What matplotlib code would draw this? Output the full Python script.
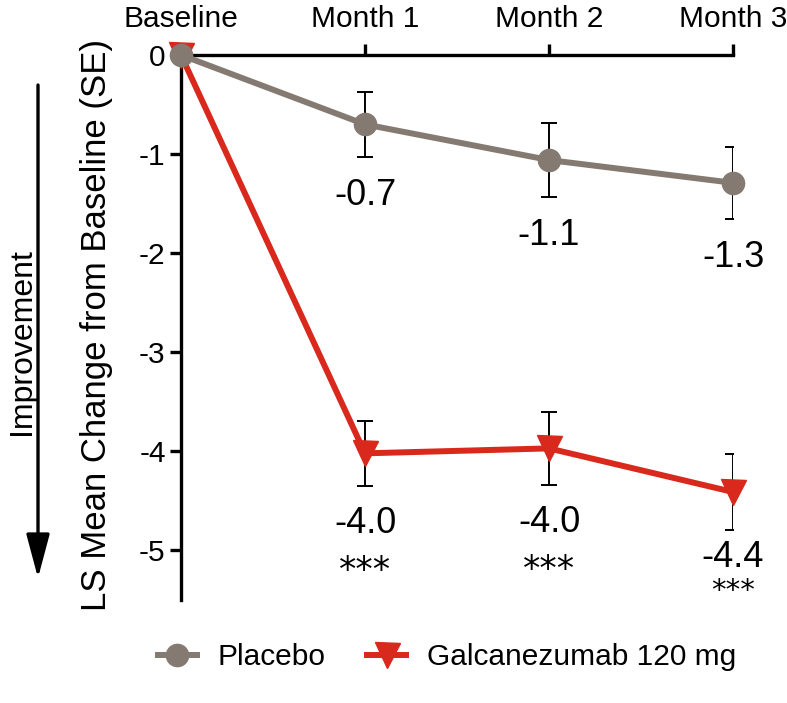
import matplotlib.pyplot as plt
from matplotlib.patches import FancyArrowPatch

plt.rcParams['font.family'] = ['Liberation Sans', 'DejaVu Sans']
plt.rcParams['axes.unicode_minus'] = False

# data
timepoints = ['Baseline', 'Month 1', 'Month 2', 'Month 3']
placebo = [0.0, -0.70, -1.06, -1.29]
placebo_se = [0.0, 0.33, 0.37, 0.36]
galca = [0.0, -4.02, -3.97, -4.41]
galca_se = [0.0, 0.33, 0.37, 0.38]
galca_stars = ['', '***', '***', '***']

grey = '#847a72'
red = '#d9291c'

fig = plt.figure(figsize=(7.87, 7.03), dpi=100)
ax = fig.add_axes([181 / 787, 1 - 600 / 703, (733 - 181) / 787, (600 - 55) / 703])

x = list(range(len(timepoints)))

# error bars (not at baseline)
ax.errorbar(x[1:], galca[1:], yerr=galca_se[1:], fmt='none', ecolor='black',
            elinewidth=1.4, capsize=5.5, capthick=1.4, zorder=2)
ax.errorbar(x[1:], placebo[1:], yerr=placebo_se[1:], fmt='none', ecolor='black',
            elinewidth=1.4, capsize=5.5, capthick=1.4, zorder=2)

l2, = ax.plot(x, galca, color=red, lw=4.3, marker='v', markersize=18,
              zorder=3, clip_on=False, label='Galcanezumab 120 mg')
l1, = ax.plot(x, placebo, color=grey, lw=4.3, marker='o', markersize=16,
              zorder=4, clip_on=False, label='Placebo')

# value labels
for i in x[1:]:
    last = i == x[-1]
    ax.annotate(f'{placebo[i]:.1f}', (i, placebo[i] - placebo_se[i]),
                xytext=(0, -28), textcoords='offset points',
                ha='center', va='center', fontsize=26)
    ax.annotate(f'{galca[i]:.1f}', (i, galca[i] - galca_se[i]),
                xytext=(0, -20 if last else -27), textcoords='offset points',
                ha='center', va='center', fontsize=26)
    ax.annotate(galca_stars[i], (i, galca[i] - galca_se[i]),
                xytext=(0, -44 if last else -61), textcoords='offset points',
                ha='center', va='center', fontsize=21 if last else 25,
                family='DejaVu Sans')

ax.set_xlim(0, 3)
ax.set_ylim(-5.5, 0)
ax.set_yticks([0, -1, -2, -3, -4, -5])
ax.set_yticklabels(['0', '-1', '-2', '-3', '-4', '-5'])
ax.set_xticks(x)
ax.set_xticklabels(timepoints)
ax.xaxis.tick_top()
ax.spines['bottom'].set_visible(False)
ax.spines['right'].set_visible(False)
ax.spines['top'].set_linewidth(2.4)
ax.spines['left'].set_linewidth(2.4)
ax.tick_params(axis='both', direction='out', width=2.4, length=8, labelsize=21.5)
ax.tick_params(axis='x', pad=8)
ax.tick_params(axis='y', pad=3)
ax.patch.set_visible(False)

fig.text(97 / 787, 1 - 325 / 703, 'LS Mean Change from Baseline (SE)', rotation=90,
         ha='center', va='center', fontsize=25)
fig.text(22 / 787, 1 - 342 / 703, 'Improvement', rotation=90,
         ha='center', va='center', fontsize=23)
arrow = FancyArrowPatch((38 / 787, 1 - 85 / 703), (38 / 787, 1 - 578 / 703),
                        transform=fig.transFigure, arrowstyle='-|>,head_length=1.35,head_width=0.36',
                        mutation_scale=20, lw=2.4, color='black', shrinkA=0, shrinkB=0)
fig.add_artist(arrow)

fig.legend(handles=[l1, l2], loc='center', bbox_to_anchor=(447 / 787, 1 - 657 / 703),
           ncol=2, frameon=False, fontsize=21.5, handlelength=1.3, columnspacing=1.4,
           handletextpad=0.7)

fig.savefig('out.png', dpi=100)
